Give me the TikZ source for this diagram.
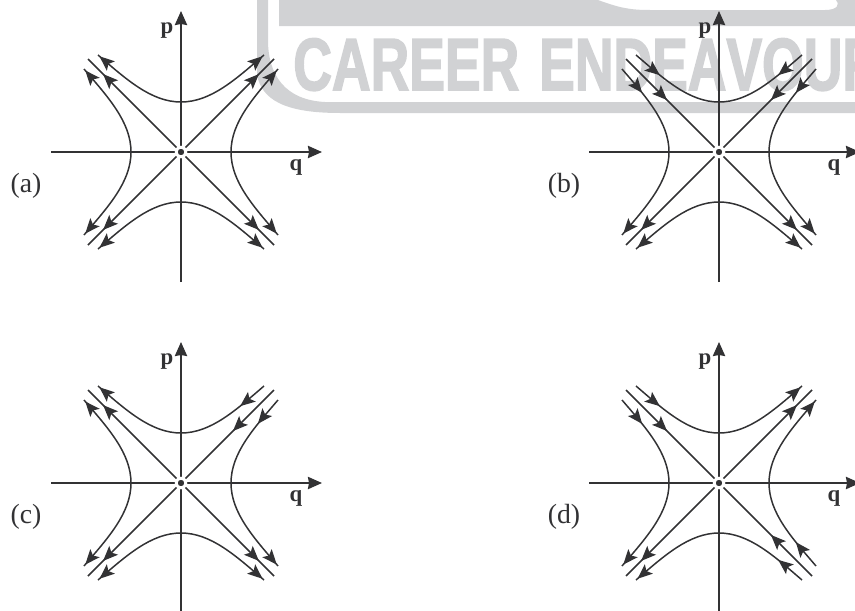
\documentclass[tikz,border=0pt]{standalone}
\usepackage{fontspec}
\setmainfont{Liberation Serif}
\newfontfamily\markfont[Kerning=Off,BoldFeatures={FakeBold=2.5}]{Liberation Sans}
\usetikzlibrary{arrows.meta,decorations.markings}
\definecolor{ink}{RGB}{50,50,52}
\definecolor{logogray}{RGB}{209,210,212}
\tikzset{
 flowtip/.tip={Stealth[length=8.5pt,width=7pt,inset=1.8pt]},
 axis/.style={ink,line width=1pt,-{Stealth[length=8pt,width=7pt,inset=0.6pt]}},
 curve/.style={ink,line width=0.85pt,postaction={decorate}},
 lineout/.style={curve,decoration={markings,mark=at position 0.84 with {\arrow{flowtip}}}},
 linein/.style={curve,decoration={markings,mark=at position 0.56 with {\arrowreversed{flowtip}}}},
 bendout/.style={curve,decoration={markings,mark=at position 0.98 with {\arrow{flowtip}}}},
 bendin/.style={curve,decoration={markings,mark=at position 0.68 with {\arrowreversed{flowtip}}}},
 origin/.style={circle,fill=ink,draw=white,line width=1.6pt,inner sep=0pt,minimum size=5.5pt},
 axislabel/.style={ink,font=\fontsize{13}{13}\selectfont\bfseries,inner sep=0pt},
 partlabel/.style={ink,font=\fontsize{15.8}{16}\selectfont,inner sep=0pt}
}
\begin{document}
\begin{tikzpicture}[x=0.02cm,y=0.02cm]
 \useasboundingbox (0,0) rectangle (855,610);
 \clip (0,0) rectangle (855,610);
 % watermark
 \fill[logogray] (279,610) -- (598,610) .. controls (620,602) and (630,600) .. (650,600)
   -- (825,600) .. controls (838,600) and (840,606) .. (836,610) -- (855,610)
   -- (855,584) -- (279,584) -- cycle;
 \fill[logogray] (257,610) -- (257,535) .. controls (262,510) and (285,497) .. (340,497)
   -- (855,497) -- (855,508) -- (325,508) .. controls (285,510) and (268,535) .. (268,570)
   -- (268,610) -- cycle;
 \node[logogray,anchor=base west,inner sep=0pt] (logo) at (293,520)
   {\markfont\bfseries\fontsize{42}{42}\selectfont\scalebox{.725}[1]{CAREER\hspace{4pt} ENDEAVOUR}};
 % the four portraits
 \foreach \cx/\cy/\name/\dne/\dnw/\dsw/\dse in {181/458/a/out/out/out/out,
   719/458/b/in/in/out/out, 181/127/c/in/out/out/out, 719/127/d/out/in/out/in}{
  \begin{scope}[shift={(\cx,\cy)}]
   \coordinate (qs\name) at (-130,0);
   \coordinate (qe\name) at (141,0);
   \coordinate (ps\name) at (0,-130);
   \coordinate (pe\name) at (0,141);
   \draw[axis] (qs\name) -- (qe\name);
   \draw[axis] (ps\name) -- (pe\name);
   \foreach \ang/\dir in {0/\dne,90/\dnw,180/\dsw,270/\dse}{
    \begin{scope}[rotate=\ang]
     \draw[line\dir] (0,0) -- (93,93);
     \draw[bend\dir] (0,50) .. controls (30,50) and (55,73) .. (83,97);
     \draw[bend\dir] (50,0) .. controls (50,30) and (73,55) .. (97,83);
    \end{scope}}
   \node[origin] (o\name) at (0,0) {};
   \node[axislabel] (p\name) at (-14,121) {p};
   \node[axislabel] (q\name) at (115,-15) {q};
   \node[partlabel] (lab\name) at (-155,-34) {(\name)};
  \end{scope}}
\end{tikzpicture}
\end{document}
